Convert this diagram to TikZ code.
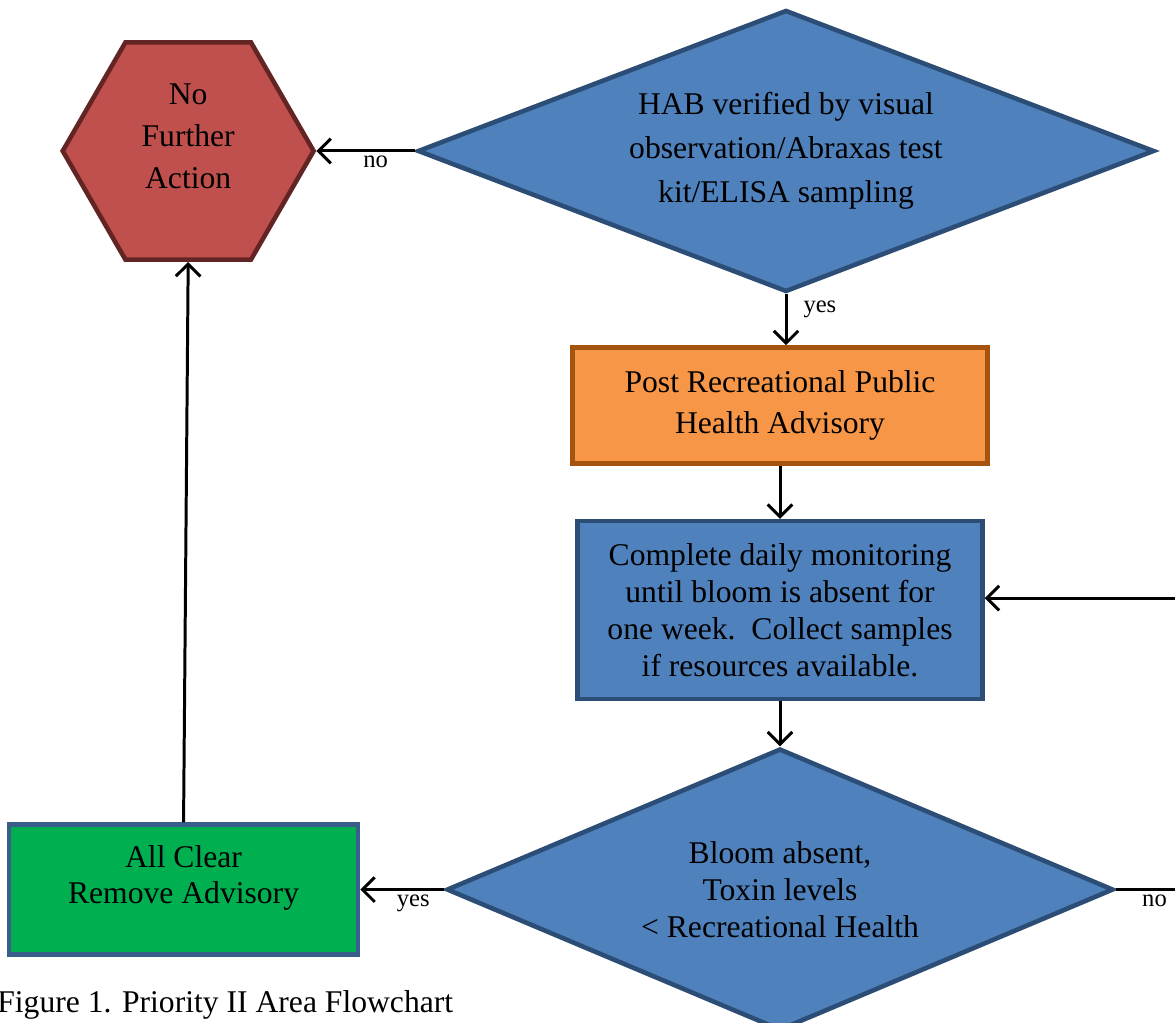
\documentclass[tikz,border=0pt]{standalone}
\usepackage{fontspec}
\setmainfont{Liberation Serif}
\usepackage{xcolor}
\usetikzlibrary{positioning, shapes.geometric, arrows.meta}
\definecolor{accentblue}{HTML}{4F81BD}
\definecolor{blueline}{HTML}{2C4D75}
\definecolor{alertred}{HTML}{C0504D}
\definecolor{redline}{HTML}{632523}
\definecolor{advorange}{HTML}{F79646}
\definecolor{orangeline}{HTML}{A5540F}
\definecolor{cleargreen}{HTML}{00B050}
\definecolor{greenline}{HTML}{3A5E8C}
\tikzset{
    base/.style={line width=2.6pt, align=center, inner sep=2pt, font=\fontsize{18}{21}\selectfont},
    decision/.style={base, diamond, fill=accentblue, draw=blueline, minimum height=5.64cm},
    process/.style={base, rectangle, fill=accentblue, draw=blueline, minimum width=8.1cm, minimum height=3.56cm},
    advisory/.style={base, rectangle, fill=advorange, draw=orangeline, minimum width=8.3cm, minimum height=2.32cm, font=\fontsize{18}{23}\selectfont},
    stopbox/.style={base, regular polygon, regular polygon sides=6, fill=alertred, draw=redline, minimum size=5.02cm, text depth=17pt, font=\fontsize{18}{24}\selectfont},
    clearbox/.style={base, rectangle, fill=cleargreen, draw=greenline, minimum width=6.98cm, minimum height=2.6cm, text depth=17pt, font=\fontsize{18}{20.5}\selectfont},
    arrow/.style={-{Straight Barb[length=7pt, width=14pt]}, line width=1.7pt},
    edgelabel/.style={inner sep=2pt, font=\fontsize{14}{16}\selectfont},
    figcaption/.style={inner sep=0pt, font=\fontsize{18}{21}\selectfont}
}

\begin{document}
\begin{tikzpicture}[x=0.02cm, y=0.02cm, node distance=1.1cm and 2cm]
\useasboundingbox (0,0) rectangle (1175,1023);
\clip (0,0) rectangle (1175,1023);

% Nodes
\node[decision, minimum width=14.74cm, aspect=2.6, font=\fontsize{18}{25}\selectfont] (verify) at (786,872) {HAB verified by visual\\observation/Abraxas test\\kit/ELISA sampling};
\node[advisory, below=1.02cm of verify, xshift=-0.12cm] (post) {Post Recreational Public\\Health Advisory};
\node[process, below=1.06cm of post] (monitor) {Complete daily monitoring\\until bloom is absent for\\one week.\ \ Collect samples\\if resources available.};
\node[decision, below=0.9cm of monitor, minimum width=13.34cm, aspect=2.37] (test) {Bloom absent,\\Toxin levels\\< Recreational Health};
\node[stopbox, left=1.98cm of verify] (stop) {No\\Further\\Action};
\node[clearbox, left=1.68cm of test] (clear) {All Clear\\Remove Advisory};
\node[figcaption, anchor=west] (figcap) at (-3,18) {Figure 1. Priority II Area Flowchart};
\coordinate (loop) at (1200,0);

% Flow
\draw[arrow] (verify.west) -- node[edgelabel, below, pos=0.4] {no} (stop.east);
\draw[arrow] (verify.south) -- node[edgelabel, right=0.25cm, pos=0.3] {yes} (verify.south |- post.north);
\draw[arrow] (post) -- (monitor);
\draw[arrow] (monitor) -- (test);
\draw[arrow] (test.west) -- node[edgelabel, below, pos=0.37] {yes} (clear.east);
\draw[arrow] (clear.north) -- (stop.south);
\draw[arrow] (test.east) -- node[edgelabel, below, pos=0.46] {no} (test.east -| loop) |- ([yshift=0.24cm]monitor.east);

\end{tikzpicture}
\end{document}
